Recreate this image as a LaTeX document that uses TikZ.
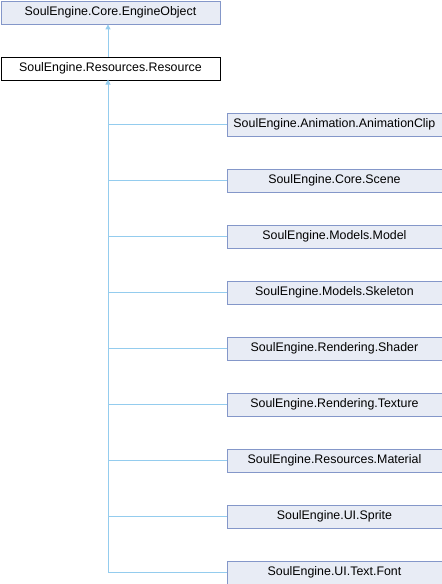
\documentclass[tikz,border=0pt]{standalone}
\usepackage{fontspec}
\setmainfont{Liberation Sans}
\usetikzlibrary{arrows.meta}
\definecolor{boxfill}{HTML}{E8ECF5}
\definecolor{boxdraw}{HTML}{8497C9}
\definecolor{edge}{HTML}{94CCEE}
\begin{document}
\begin{tikzpicture}[x=1pt,y=-1pt,
  cls/.style={draw=boxdraw,fill=boxfill,line width=0.9pt,minimum height=23pt,inner sep=0pt,font=\fontsize{12.4}{14}\selectfont,anchor=north west},
  cur/.style={draw=black,fill=white,line width=0.9pt,minimum height=23pt,inner sep=0pt,font=\fontsize{12.4}{14}\selectfont,anchor=north west},
  inh/.style={draw=edge,line width=1pt},
  tip/.style={-{Triangle[length=5pt,width=5pt]}}]
\useasboundingbox (0,0) rectangle (442,584);
\node[cls,minimum width=219pt] (eo) at (0.5,0.5) {SoulEngine.Core.EngineObject};
\node[cur,minimum width=219pt] (res) at (0.5,56.5) {SoulEngine.Resources.Resource};
\foreach \n/\t [count=\i from 0] in {c0/SoulEngine.Animation.AnimationClip,c1/SoulEngine.Core.Scene,c2/SoulEngine.Models.Model,c3/SoulEngine.Models.Skeleton,c4/SoulEngine.Rendering.Shader,c5/SoulEngine.Rendering.Texture,c6/SoulEngine.Resources.Material,c7/SoulEngine.UI.Sprite,c8/SoulEngine.UI.Text.Font}{
  \node[cls,minimum width=215pt] (\n) at (226.5,112.5+56*\i) {\t};
}
\draw[inh,tip] (res.north -| 108,0) -- (eo.south -| 108,0);
\coordinate (trunk) at (108,79.5);
\draw[inh,tip] (c8.west -| trunk) -- (trunk);
\foreach \i in {0,...,8}{
  \draw[inh] (c\i.west -| trunk) -- (c\i.west);
}
\end{tikzpicture}
\end{document}
